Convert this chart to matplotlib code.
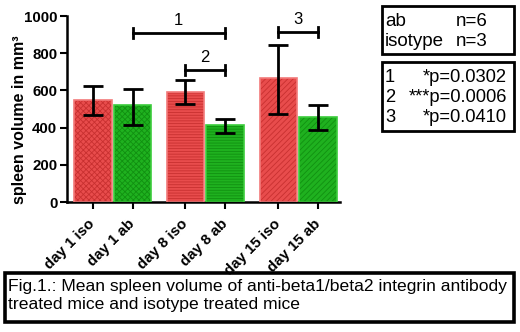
import matplotlib
matplotlib.use("Agg")
import matplotlib.pyplot as plt
from matplotlib.patches import Rectangle

plt.rcParams['font.family'] = ['Liberation Sans', 'DejaVu Sans']
plt.rcParams['hatch.linewidth'] = 0.6

categories = ["day 1 iso", "day 1 ab", "day 8 iso", "day 8 ab", "day 15 iso", "day 15 ab"]
means = [548, 521, 591, 414, 667, 457]
err_low = [470, 415, 527, 372, 474, 388]
err_high = [623, 608, 656, 446, 845, 521]
fill_colors = ["#e84c4c", "#1fb11f", "#e84c4c", "#1fb11f", "#e84c4c", "#1fb11f"]
hatch_colors = ["#c83030", "#119011", "#c83030", "#119011", "#c83030", "#119011"]
edge_colors = ["#f27a7a", "#3ccc3c", "#f27a7a", "#3ccc3c", "#f27a7a", "#3ccc3c"]
hatches = ["xxxxxx", "xxxxxx", "------", "------", "//////", "//////"]
brackets = [(1, 3, 908, "1"), (2, 3, 710, "2"), (4, 5, 912, "3")]
legend_groups = [("ab", "n=6"), ("isotype", "n=3")]
p_labels = [("1", "*p=0.0302"), ("2", "***p=0.0006"), ("3", "*p=0.0410")]
caption_lines = ["Fig.1.: Mean spleen volume of anti-beta1/beta2 integrin antibody",
                 "treated mice and isotype treated mice"]

x = [0, 1, 2.33, 3.33, 4.67, 5.67]

fig = plt.figure(figsize=(5.2, 3.32), dpi=100)
ax = fig.add_axes([67/520, 1-202/332, (340-67)/520, (202-16)/332])

width = 0.95
for xi, m, fc, hc, ec, h in zip(x, means, fill_colors, hatch_colors, edge_colors, hatches):
    ax.bar(xi, m, width=width, color=fc, edgecolor=hc, hatch=h, linewidth=0, zorder=2)
    ax.bar(xi, m, width=width, facecolor="none", edgecolor=ec, linewidth=1.2, zorder=3)

ylow = [m - l for m, l in zip(means, err_low)]
yhigh = [h - m for m, h in zip(means, err_high)]
ax.errorbar(x, means, yerr=[ylow, yhigh], fmt="none", ecolor="black",
            elinewidth=2, capsize=7.5, capthick=2, zorder=4)

for i, j, yv, lab in brackets:
    ax.plot([x[i], x[j]], [yv, yv], color="black", lw=2, zorder=4)
    ax.plot([x[i], x[i]], [yv - 27, yv + 27], color="black", lw=2, zorder=4)
    ax.plot([x[j], x[j]], [yv - 27, yv + 27], color="black", lw=2, zorder=4)
    ax.text((x[i] + x[j]) / 2, yv + 28, lab, ha="center", va="bottom", fontsize=12)

ax.set_xlim(-0.65, 6.22)
ax.set_ylim(0, 1000)
ax.set_yticks([0, 200, 400, 600, 800, 1000])
ax.set_xticks(x)
ax.set_xticklabels(categories, rotation=45, ha="right", va="center", rotation_mode="anchor",
                   fontsize=10.8, fontweight="bold")
for t in ax.get_yticklabels():
    t.set_fontweight("bold")
    t.set_fontsize(10.8)
ax.tick_params(axis="both", direction="out", length=5, width=1.5, pad=2)
ax.tick_params(axis="x", pad=9)
ax.spines["top"].set_visible(False)
ax.spines["right"].set_visible(False)
ax.spines["left"].set_linewidth(1.8)
ax.spines["bottom"].set_linewidth(1.8)
ax.set_ylabel("spleen volume in mm³", fontsize=11.5, fontweight="bold")
ax.yaxis.set_label_coords(-0.147, 0.44)

# legend boxes
def fbox(x0, y0, x1, y1, lw=2.0):
    fig.patches.append(Rectangle((x0/520, 1-y1/332), (x1-x0)/520, (y1-y0)/332,
                                 transform=fig.transFigure, fill=False,
                                 edgecolor="black", linewidth=lw))

fbox(382, 6, 514, 54)
for k, (g, n) in enumerate(legend_groups):
    yy = 1 - (22 + k*20)/332
    fig.text(385/520, yy, g, fontsize=13.5, va="center", ha="left")
    fig.text(456/520, yy, n, fontsize=13.5, va="center", ha="left")

fbox(382, 62, 514, 131)
for k, (num, p) in enumerate(p_labels):
    yy = 1 - (78 + k*20)/332
    fig.text(385/520, yy, num, fontsize=13.2, va="center", ha="left")
    fig.text(507/520, yy, p, fontsize=13.2, va="center", ha="right")

fbox(5, 273, 514, 322, lw=2.6)
for k, line in enumerate(caption_lines):
    fig.text(8/520, 1 - (286 + k*18.5)/332, line, fontsize=12.6, va="center", ha="left")

fig.savefig("out.png", dpi=100)
